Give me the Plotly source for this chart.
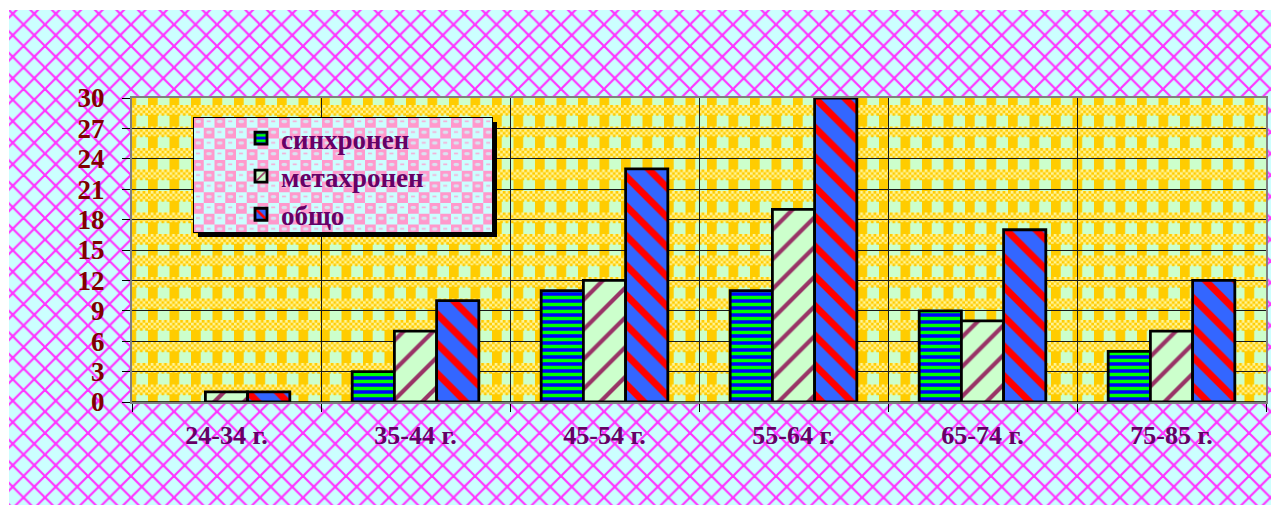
import base64
import plotly.graph_objects as go

# ---------------- data ----------------
categories = ["24-34 г.", "35-44 г.", "45-54 г.", "55-64 г.", "65-74 г.", "75-85 г."]
sinhronen = [0, 3, 11, 11, 9, 5]
metahronen = [1, 7, 12, 19, 8, 7]
obshto = [1, 10, 23, 30, 17, 12]
series_names = ["синхронен", "метахронен", "общо"]
y_ticks = [0, 3, 6, 9, 12, 15, 18, 21, 24, 27, 30]

# ---------------- geometry ----------------
W, H = 1271, 513
ML, MR, MT, MB = 132, 5, 98, 111
PW, PH = W - ML - MR, H - MT - MB


def px2paper_x(px):
    return (px - ML) / PW


def px2paper_y(py):
    return (H - MB - py) / PH


def uri(svg):
    return "data:image/svg+xml;base64," + base64.b64encode(svg.encode("utf-8")).decode()


# ---------------- background svg (paper + plot area) ----------------
p = 21.5
lat = ""
for c in (-p, 0, p):
    lat += f'<line x1="{c}" y1="0" x2="{c + p}" y2="{p}" stroke="#FF33FF" stroke-width="2.2"/>'
for c in (0, p, 2 * p):
    lat += f'<line x1="{c}" y1="0" x2="{c - p}" y2="{p}" stroke="#FF33FF" stroke-width="2.2"/>'

s = p / 8
chk = ""
for i in range(8):
    for j in range(4):
        if (i + j) % 2 == 0:
            chk += f'<rect x="{i * s}" y="{j * s}" width="{s}" height="{s}" fill="#FFCC00"/>'

bg_svg = f'''<svg xmlns="http://www.w3.org/2000/svg" width="{W}" height="{H}" viewBox="0 0 {W} {H}">
<defs>
<pattern id="lat" width="{p}" height="{p}" patternUnits="userSpaceOnUse" x="2" y="3">
<rect width="{p}" height="{p}" fill="#CCFFFF"/>{lat}
</pattern>
<pattern id="pl" width="{p}" height="{p}" patternUnits="userSpaceOnUse" x="148" y="105">
<rect width="{p}" height="{p}" fill="#CCFFCC"/>
<rect x="0" y="0" width="{p * 0.45}" height="{p}" fill="#FFCC00"/>
<rect x="0" y="0" width="{p}" height="{p * 0.45}" fill="#FFF599"/>{chk}
</pattern>
</defs>
<rect x="0" y="0" width="{W}" height="{H}" fill="white"/>
<rect x="9" y="10" width="{W - 9}" height="{505 - 10}" fill="url(#lat)"/>
<rect x="{ML}" y="{MT}" width="{PW}" height="{PH}" fill="url(#pl)"/>
</svg>'''

# ---------------- legend box svg ----------------
LX0, LY0, LX1, LY1 = 193, 117, 492, 232
SH = 5
lw, lh = LX1 - LX0, LY1 - LY0
q = 21.5
leg_tile = (f'<rect width="{q}" height="{q}" fill="#CCFFFF"/>'
            f'<rect x="0" y="0" width="{q / 2}" height="{q / 2}" fill="#FF99CC"/>'
            f'<rect x="{q / 2}" y="{q / 2}" width="{q / 2}" height="{q / 2}" fill="#FF99CC"/>'
            f'<rect x="2.5" y="3" width="5.5" height="3" rx="1.5" fill="#CCFFFF" opacity="0.7"/>'
            f'<rect x="{q / 2 + 2.5}" y="{q / 2 + 3}" width="5.5" height="3" rx="1.5" fill="#CCFFFF" opacity="0.7"/>'
            f'<rect x="{q / 2 + 3}" y="3.5" width="4" height="1.6" fill="#FF99CC" opacity="0.8"/>'
            f'<rect x="3" y="{q / 2 + 3.5}" width="4" height="1.6" fill="#FF99CC" opacity="0.8"/>')
leg_svg = f'''<svg xmlns="http://www.w3.org/2000/svg" width="{lw + SH + 1}" height="{lh + SH + 1}" viewBox="0 0 {lw + SH + 1} {lh + SH + 1}">
<defs><pattern id="lg" width="{q}" height="{q}" patternUnits="userSpaceOnUse">{leg_tile}</pattern></defs>
<rect x="{SH}" y="{SH}" width="{lw}" height="{lh}" fill="black"/>
<rect x="0.5" y="0.5" width="{lw}" height="{lh}" fill="url(#lg)" stroke="black" stroke-width="1"/>
</svg>'''

# ---------------- figure ----------------
serif = "Liberation Serif, Times New Roman, serif"
styles = [
    dict(shape="-", bgcolor="#0000FF", fgcolor="#00FF00", size=7, solidity=0.5),
    dict(shape="/", bgcolor="#CCFFCC", fgcolor="#993366", size=21, solidity=0.2),
    dict(shape="\\", bgcolor="#3366FF", fgcolor="#FF0000", size=21, solidity=0.33),
]

fig = go.Figure()
for name, vals, st in zip(series_names, [sinhronen, metahronen, obshto], styles):
    fig.add_trace(go.Bar(
        x=categories, y=[v if v != 0 else None for v in vals], name=name, legendgroup=name,
        marker=dict(color=st["bgcolor"],
                    pattern=dict(shape=st["shape"], bgcolor=st["bgcolor"], fgcolor=st["fgcolor"],
                                 size=st["size"], solidity=st["solidity"], fillmode="replace"),
                    line=dict(color="black", width=2.8)),
    ))

fig.update_layout(
    width=W, height=H,
    margin=dict(l=ML, r=MR, t=MT, b=MB, pad=0, autoexpand=False),
    paper_bgcolor="white", plot_bgcolor="rgba(0,0,0,0)",
    barmode="group", bargap=0.33, bargroupgap=0,
    showlegend=True,
    xaxis=dict(
        tickson="boundaries", showgrid=True, gridcolor="#1a1a1a", gridwidth=1,
        ticks="outside", ticklen=8, tickcolor="black", tickwidth=1,
        showline=True, linecolor="#808080", linewidth=2, mirror=True,
        tickfont=dict(family=serif, size=26, color="#660066", weight="bold"),
        ticklabelstandoff=9,
    ),
    yaxis=dict(
        range=[0, 30], tickmode="array", tickvals=y_ticks,
        showgrid=True, gridcolor="#1a1a1a", gridwidth=1, zeroline=False,
        ticks="outside", ticklen=8, tickcolor="black", tickwidth=1,
        showline=True, linecolor="#808080", linewidth=2, mirror=True,
        tickfont=dict(family=serif, size=27, color="#800000", weight="bold"),
        ticklabelstandoff=12,
    ),
    legend=dict(
        x=px2paper_x(241), y=px2paper_y(114), xanchor="left", yanchor="top",
        bgcolor="rgba(0,0,0,0)", borderwidth=0, itemwidth=30, tracegroupgap=5,
        font=dict(family=serif, size=27, color="#660066", weight="bold"),
        traceorder="normal",
    ),
    images=[
        dict(source=uri(bg_svg), xref="paper", yref="paper",
             x=px2paper_x(0), y=px2paper_y(0), sizex=W / PW, sizey=H / PH,
             xanchor="left", yanchor="top", sizing="stretch", layer="below"),
        dict(source=uri(leg_svg), xref="paper", yref="paper",
             x=px2paper_x(LX0), y=px2paper_y(LY0), sizex=(lw + SH + 1) / PW, sizey=(lh + SH + 1) / PH,
             xanchor="left", yanchor="top", sizing="stretch", layer="above"),
    ],
    shapes=[
        dict(type="line", xref="paper", yref="y", x0=0, x1=1, y0=0, y1=0,
             line=dict(color="black", width=1.5), layer="above"),
    ],
)

fig.write_html("out.html")
